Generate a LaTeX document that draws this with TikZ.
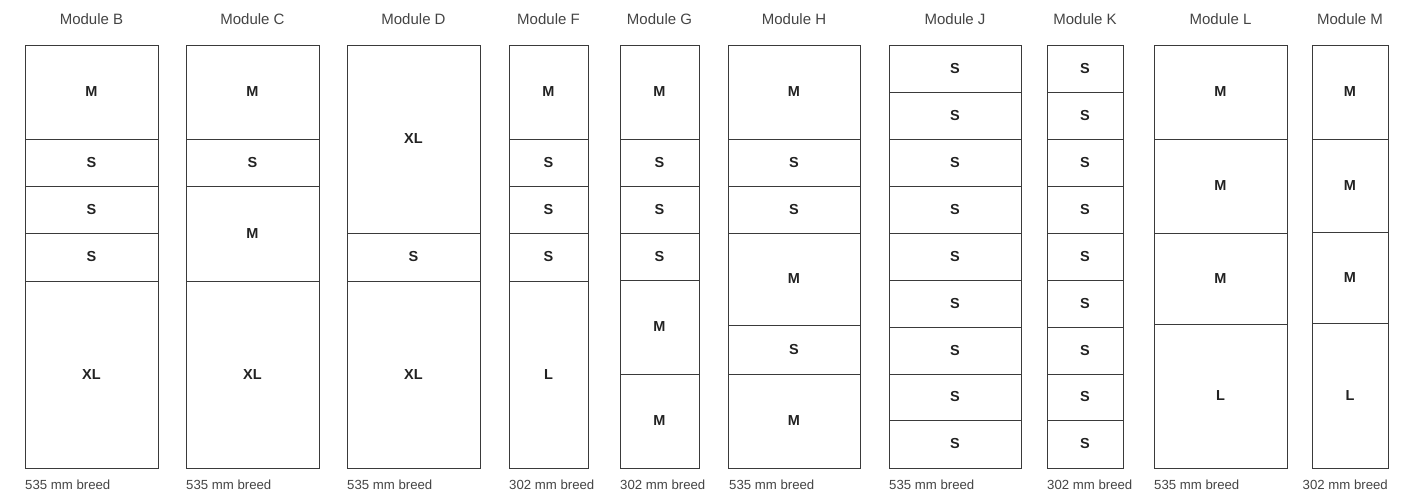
\documentclass[tikz,border=0pt]{standalone}
\usepackage{fontspec}
\setmainfont{Liberation Sans}
\definecolor{linec}{HTML}{3A3A3A}
\definecolor{titlec}{HTML}{444444}
\definecolor{labc}{HTML}{222222}
\begin{document}
\begin{tikzpicture}[x=1pt,y=-1pt,
  cellbox/.style={draw=linec, line width=0.9pt, inner sep=0pt, outer sep=0pt,
    font=\fontsize{14.5}{16}\selectfont\bfseries, text=labc},
  titlelab/.style={font=\fontsize{15}{17}\selectfont, text=titlec, inner sep=0pt},
  widthlab/.style={font=\fontsize{13.2}{15}\selectfont, text=titlec, inner sep=0pt}]
\useasboundingbox (0,0) rectangle (1413,492);
\newcommand\mycell[6]{%
  \pgfmathsetmacro\cw{#3-#2}\pgfmathsetmacro\ch{#5-#4}%
  \pgfmathsetmacro\cx{(#2+#3)/2}\pgfmathsetmacro\cy{(#4+#5)/2}%
  \node[cellbox, minimum width=\cw pt, minimum height=\ch pt] (#1) at (\cx,\cy) {#6};}
\newcommand\mytitle[4]{%
  \pgfmathsetmacro\cx{(#2+#3)/2}%
  \node[titlelab] (#1) at (\cx,19) {#4};}
% Module B
\mytitle{tB}{25}{158}{Module B}
\mycell{B1}{25}{158}{45}{139}{M}
\mycell{B2}{25}{158}{139}{186}{S}
\mycell{B3}{25}{158}{186}{233}{S}
\mycell{B4}{25}{158}{233}{281}{S}
\mycell{B5}{25}{158}{281}{468}{XL}
\node[widthlab, anchor=west] (wB) at (25,485) {535 mm breed};
% Module C
\mytitle{tC}{186}{319}{Module C}
\mycell{C1}{186}{319}{45}{139}{M}
\mycell{C2}{186}{319}{139}{186}{S}
\mycell{C3}{186}{319}{186}{281}{M}
\mycell{C4}{186}{319}{281}{468}{XL}
\node[widthlab, anchor=west] (wC) at (186,485) {535 mm breed};
% Module D
\mytitle{tD}{347}{480}{Module D}
\mycell{D1}{347}{480}{45}{233}{XL}
\mycell{D2}{347}{480}{233}{281}{S}
\mycell{D3}{347}{480}{281}{468}{XL}
\node[widthlab, anchor=west] (wD) at (347,485) {535 mm breed};
% Module F
\mytitle{tF}{509}{588}{Module F}
\mycell{F1}{509}{588}{45}{139}{M}
\mycell{F2}{509}{588}{139}{186}{S}
\mycell{F3}{509}{588}{186}{233}{S}
\mycell{F4}{509}{588}{233}{281}{S}
\mycell{F5}{509}{588}{281}{468}{L}
\node[widthlab, anchor=west] (wF) at (509,485) {302 mm breed};
% Module G
\mytitle{tG}{620}{699}{Module G}
\mycell{G1}{620}{699}{45}{139}{M}
\mycell{G2}{620}{699}{139}{186}{S}
\mycell{G3}{620}{699}{186}{233}{S}
\mycell{G4}{620}{699}{233}{280}{S}
\mycell{G5}{620}{699}{280}{374}{M}
\mycell{G6}{620}{699}{374}{468}{M}
\node[widthlab, anchor=west] (wG) at (620,485) {302 mm breed};
% Module H
\mytitle{tH}{728}{860}{Module H}
\mycell{H1}{728}{860}{45}{139}{M}
\mycell{H2}{728}{860}{139}{186}{S}
\mycell{H3}{728}{860}{186}{233}{S}
\mycell{H4}{728}{860}{233}{325}{M}
\mycell{H5}{728}{860}{325}{374}{S}
\mycell{H6}{728}{860}{374}{468}{M}
\node[widthlab, anchor=west] (wH) at (729,485) {535 mm breed};
% Module J
\mytitle{tJ}{889}{1021}{Module J}
\mycell{J1}{889}{1021}{45}{92}{S}
\mycell{J2}{889}{1021}{92}{139}{S}
\mycell{J3}{889}{1021}{139}{186}{S}
\mycell{J4}{889}{1021}{186}{233}{S}
\mycell{J5}{889}{1021}{233}{280}{S}
\mycell{J6}{889}{1021}{280}{327}{S}
\mycell{J7}{889}{1021}{327}{374}{S}
\mycell{J8}{889}{1021}{374}{420}{S}
\mycell{J9}{889}{1021}{420}{468}{S}
\node[widthlab, anchor=west] (wJ) at (889,485) {535 mm breed};
% Module K
\mytitle{tK}{1047}{1123}{Module K}
\mycell{K1}{1047}{1123}{45}{92}{S}
\mycell{K2}{1047}{1123}{92}{139}{S}
\mycell{K3}{1047}{1123}{139}{186}{S}
\mycell{K4}{1047}{1123}{186}{233}{S}
\mycell{K5}{1047}{1123}{233}{280}{S}
\mycell{K6}{1047}{1123}{280}{327}{S}
\mycell{K7}{1047}{1123}{327}{374}{S}
\mycell{K8}{1047}{1123}{374}{420}{S}
\mycell{K9}{1047}{1123}{420}{468}{S}
\node[widthlab, anchor=west] (wK) at (1047,485) {302 mm breed};
% Module L
\mytitle{tL}{1154}{1287}{Module L}
\mycell{L1}{1154}{1287}{45}{139}{M}
\mycell{L2}{1154}{1287}{139}{233}{M}
\mycell{L3}{1154}{1287}{233}{324}{M}
\mycell{L4}{1154}{1287}{324}{468}{L}
\node[widthlab, anchor=west] (wL) at (1154,485) {535 mm breed};
% Module M
\mytitle{tM}{1312}{1388}{Module M}
\mycell{M1}{1312}{1388}{45}{139}{M}
\mycell{M2}{1312}{1388}{139}{232}{M}
\mycell{M3}{1312}{1388}{232}{323}{M}
\mycell{M4}{1312}{1388}{323}{468}{L}
\node[widthlab, anchor=east] (wM) at (1388,485) {302 mm breed};
\end{tikzpicture}
\end{document}
